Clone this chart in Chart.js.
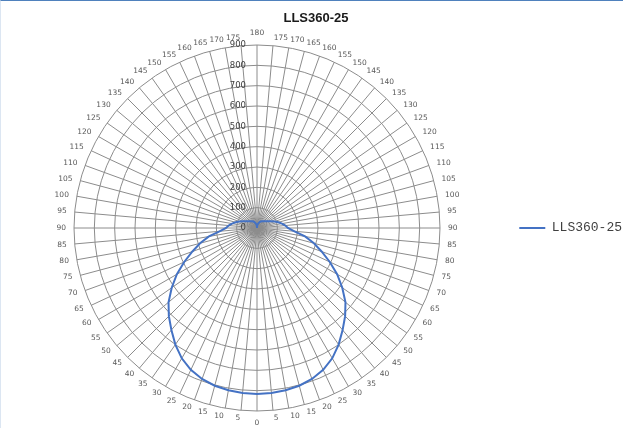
<!DOCTYPE html>
<html>
<head>
<meta charset="utf-8">
<title>LLS360-25</title>
<script src="https://cdn.jsdelivr.net/npm/chart.js@4.4.1/dist/chart.umd.min.js"></script>
<style>
    html, body { margin: 0; padding: 0; background: #fff; }
    #wrap { position: relative; width: 623px; height: 428px; }
    #chart { display: block; }
    #frame {
        position: absolute; left: 0; top: 0; right: 0; bottom: 0;
        border-top: 1px solid #4f81bd; border-left: 1px solid #dce6f2;
        pointer-events: none;
    }
</style>
</head>
<body>
<div id="wrap">
    <canvas id="chart" width="623" height="428"></canvas>
    <div id="frame"></div>
</div>
<script>
    // chart data
    var chartTitle = 'LLS360-25';
    var seriesName = 'LLS360-25';

    // spokes every 5 degrees, clockwise from the top
    var angleLabels = [
        '180', '175', '170', '165', '160', '155', '150', '145', '140', '135', '130', '125',
        '120', '115', '110', '105', '100', '95', '90', '85', '80', '75', '70', '65',
        '60', '55', '50', '45', '40', '35', '30', '25', '20', '15', '10', '5',
        '0', '5', '10', '15', '20', '25', '30', '35', '40', '45', '50', '55',
        '60', '65', '70', '75', '80', '85', '90', '95', '100', '105', '110', '115',
        '120', '125', '130', '135', '140', '145', '150', '155', '160', '165', '170', '175'
    ];

    var intensity = [
        0, 12, 18, 23, 28, 33, 37, 41, 44, 47, 52, 58,
        66, 78, 93, 109, 125, 140, 152, 185, 240, 290, 338, 395,
        455, 512, 568, 613, 655, 700, 740, 770, 790, 803, 810, 814,
        816, 814, 810, 803, 790, 770, 740, 700, 655, 613, 568, 512,
        455, 395, 338, 290, 240, 185, 152, 140, 125, 109, 93, 78,
        66, 58, 52, 47, 44, 41, 37, 33, 28, 23, 18, 12
    ];

    var radialMax = 900;
    var radialStep = 100;

    var gridColor = '#8c8c8c';
    var lineColor = '#4472c4';

    // radial tick labels left of the vertical axis, angle labels centred
    // on their spoke the way Excel places them
    var excelLabels = {
        id: 'excelLabels',
        beforeDatasetsDraw: function (chart) {
            var scale = chart.scales.r;
            var ctx = chart.ctx;
            ctx.save();

            ctx.font = '8.5px "DejaVu Sans"';
            ctx.fillStyle = '#404040';
            ctx.textAlign = 'right';
            ctx.textBaseline = 'middle';
            scale.ticks.forEach(function (tick) {
                var d = scale.getDistanceFromCenterForValue(tick.value);
                ctx.fillText(tick.label, scale.xCenter - 11, scale.yCenter - d);
            });

            ctx.font = '7.5px "DejaVu Sans"';
            ctx.fillStyle = '#595959';
            var n = angleLabels.length;
            angleLabels.forEach(function (lbl, i) {
                var p = scale.getPointPosition(i, scale.drawingArea + 8);
                var deg = i * 360 / n;
                if (deg === 0) {
                    ctx.textAlign = 'center';
                    ctx.textBaseline = 'bottom';
                } else if (deg === 180) {
                    ctx.textAlign = 'center';
                    ctx.textBaseline = 'top';
                } else {
                    ctx.textAlign = deg < 180 ? 'left' : 'right';
                    ctx.textBaseline = 'middle';
                }
                ctx.fillText(lbl, p.x, p.y);
            });
            ctx.restore();
        }
    };

    var ctx = document.getElementById('chart').getContext('2d');
    var chart = new Chart(ctx, {
        type: 'radar',
        data: {
            labels: angleLabels,
            datasets: [{
                label: seriesName,
                data: intensity,
                borderColor: lineColor,
                backgroundColor: lineColor,
                borderWidth: 2,
                pointRadius: 0,
                pointHoverRadius: 0,
                fill: false,
                tension: 0
            }]
        },
        options: {
            responsive: false,
            animation: false,
            devicePixelRatio: 1,
            layout: { padding: { left: 0, right: -9, top: 0, bottom: 17 } },
            scales: {
                r: {
                    min: 0,
                    max: radialMax,
                    startAngle: 0,
                    ticks: { stepSize: radialStep, display: false },
                    grid: { circular: true, color: gridColor, lineWidth: 1 },
                    angleLines: { color: gridColor, lineWidth: 1 },
                    pointLabels: { display: false }
                }
            },
            plugins: {
                title: {
                    display: true,
                    text: chartTitle,
                    color: '#1a1a1a',
                    font: { family: 'Liberation Sans', size: 13, weight: 'bold' },
                    padding: { top: 11, bottom: 18.4 }
                },
                legend: {
                    position: 'right',
                    fullSize: false,
                    labels: {
                        usePointStyle: true,
                        pointStyle: 'line',
                        pointStyleWidth: 26,
                        padding: 4,
                        color: '#404040',
                        font: { family: 'Liberation Mono', size: 13 }
                    }
                },
                tooltip: { enabled: false }
            }
        },
        plugins: [excelLabels]
    });
</script>
</body>
</html>
